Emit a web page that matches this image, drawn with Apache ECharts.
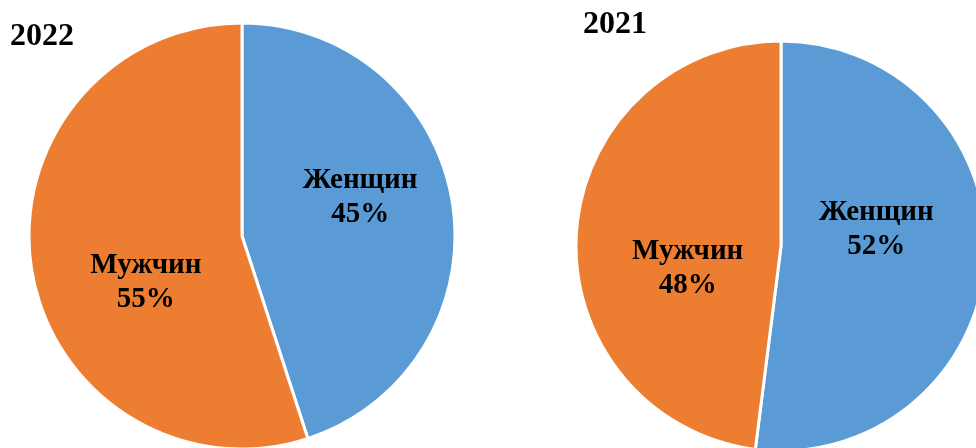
<!DOCTYPE html>
<html>
<head>
<meta charset="utf-8">
<script src="https://cdn.jsdelivr.net/npm/echarts@6/dist/echarts.min.js"></script>
<style>
  html, body { margin: 0; padding: 0; background: #fff; }
  #chart { width: 976px; height: 448px; }
</style>
</head>
<body>
<div id="chart"></div>
<script>
// данные
const categories = ['Женщин', 'Мужчин']
const years = ['2022', '2021']
const values2022 = [45, 55]
const values2021 = [52, 48]

const colors = ['#5b9bd5', '#ed7d31']
const font = '"Liberation Serif", "Times New Roman", serif'

// сдвиг подписей относительно положения inside
const labelShift = {
    '2022': [[10, -21], [12, 29]],
    '2021': [[-10, -23], [12, 29]],
}

function makePie(year, values, center, radius) {
    return {
        type: 'pie',
        name: year,
        center: center,
        radius: radius,
        startAngle: 90,
        clockwise: true,
        silent: true,
        animation: false,
        itemStyle: {
            borderColor: '#fff',
            borderWidth: 3,
        },
        label: {
            show: true,
            position: 'inside',
            formatter: p => p.name + '\n' + p.value + '%',
            fontFamily: font,
            fontWeight: 'bold',
            fontSize: 29,
            lineHeight: 34,
            color: '#000',
        },
        labelLayout: p => ({
            dx: labelShift[year][p.dataIndex][0],
            dy: labelShift[year][p.dataIndex][1],
        }),
        data: categories.map((name, i) => ({
            name: name,
            value: values[i],
            itemStyle: { color: colors[i] },
        })),
    }
}

const titleStyle = { fontFamily: font, fontWeight: 'bold', fontSize: 32, color: '#000' }

const chart = echarts.init(document.getElementById('chart'))
chart.setOption({
    backgroundColor: '#fff',
    title: [
        { text: years[0], left: 10, top: 21, padding: 0, textStyle: titleStyle },
        { text: years[1], left: 583, top: 9, padding: 0, textStyle: titleStyle },
    ],
    series: [
        makePie(years[0], values2022, [242, 236], 213),
        makePie(years[1], values2021, [781, 246], 205),
    ],
})
</script>
</body>
</html>
